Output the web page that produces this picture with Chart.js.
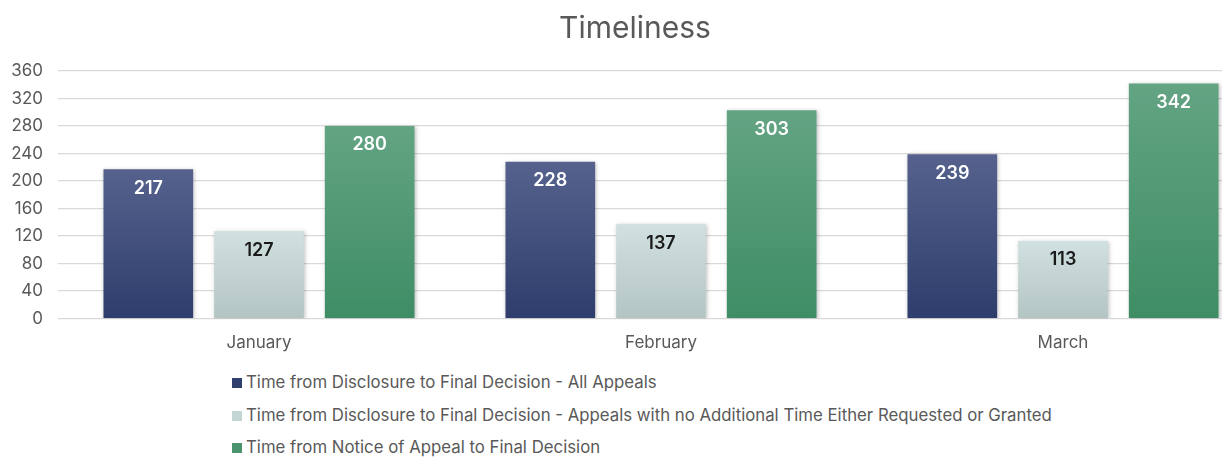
<!DOCTYPE html>
<html lang="en">
  <head>
    <meta charset="UTF-8" />
    <title>Timeliness</title>
    <script src="https://cdn.jsdelivr.net/npm/chart.js@4.4.1/dist/chart.umd.min.js"></script>
    <style>
      html, body { margin: 0; padding: 0; background: #fff; overflow: hidden; }
      #wrap { width: 1266px; height: 371px; position: relative; }
      #legend { margin: -5px 0 0 0; padding: 0 0 0 232px; list-style: none; font-family: Inter, sans-serif; font-size: 16.8px; color: #595959; }
      #legend li { height: 32.5px; line-height: 32.5px; white-space: nowrap; }
      #legend span.box { display: inline-block; width: 10px; height: 10px; margin-right: 4px; vertical-align: 0px; }
    </style>
  </head>
  <body>
    <div id="wrap"><canvas id="myChart"></canvas></div>
    <ul id="legend"></ul>
    <script>
      const months = ["January", "February", "March"];
      const allAppeals = [217, 228, 239];
      const noExtraTime = [127, 137, 113];
      const noticeToDecision = [280, 303, 342];
      const seriesNames = [
        "Time from Disclosure to Final Decision - All Appeals",
        "Time from Disclosure to Final Decision - Appeals with no Additional Time Either Requested or Granted",
        "Time from Notice of Appeal to Final Decision",
      ];
      // top colour, bottom colour, solid legend colour, label colour
      const palette = [
        ["#56628d", "#2e3d6c", "#2f3f6e", "#ffffff"],
        ["#d1e0e0", "#b3c5c3", "#c3d6d4", "#1a1a1a"],
        ["#63a483", "#3e8d65", "#4a9470", "#ffffff"],
      ];

      function barGradient(idx) {
        return function (context) {
          const chart = context.chart;
          if (!chart.chartArea || !chart.scales.y) return palette[idx][2];
          const v = context.raw;
          const yTop = chart.scales.y.getPixelForValue(v);
          const yBot = chart.scales.y.getPixelForValue(0);
          const g = chart.ctx.createLinearGradient(0, yTop, 0, yBot);
          g.addColorStop(0, palette[idx][0]);
          g.addColorStop(1, palette[idx][1]);
          return g;
        };
      }

      const valueLabels = {
        id: "valueLabels",
        beforeDatasetsDraw(chart) {
          chart.ctx.save();
          chart.ctx.shadowColor = "rgba(0,0,0,0.25)";
          chart.ctx.shadowBlur = 4;
          chart.ctx.shadowOffsetX = 1;
          chart.ctx.shadowOffsetY = 1;
        },
        afterDatasetsDraw(chart) {
          const ctx = chart.ctx;
          ctx.restore();
          ctx.save();
          ctx.font = "600 18px Inter, sans-serif";
          ctx.textAlign = "center";
          ctx.textBaseline = "middle";
          chart.data.datasets.forEach((ds, i) => {
            const meta = chart.getDatasetMeta(i);
            ctx.fillStyle = palette[i][3];
            meta.data.forEach((bar, j) => {
              ctx.fillText(ds.data[j], bar.x, bar.y + 19);
            });
          });
          ctx.restore();
        },
      };

      const ctx = document.getElementById("myChart").getContext("2d");
      const datasets = [allAppeals, noExtraTime, noticeToDecision].map((d, i) => ({
        label: seriesNames[i],
        data: d,
        backgroundColor: barGradient(i),
        borderWidth: 0,
        categoryPercentage: 0.826,
        barPercentage: 0.81,
      }));

      const chart = new Chart(ctx, {
        type: "bar",
        data: { labels: months, datasets: datasets },
        plugins: [valueLabels],
        options: {
          responsive: true,
          maintainAspectRatio: false,
          animation: false,
          layout: { padding: { left: 6, right: 2, top: 0, bottom: 4 } },
          plugins: {
            legend: { display: false },
            tooltip: { enabled: false },
            title: {
              display: true,
              text: "Timeliness",
              color: "#595959",
              font: { family: "Inter, sans-serif", size: 30, weight: "normal" },
              padding: { top: 11, bottom: 24 },
            },
          },
          scales: {
            x: {
              grid: { display: false, drawTicks: false },
              border: { display: false },
              ticks: {
                color: "#595959",
                font: { family: "Inter, sans-serif", size: 17 },
                padding: 14,
              },
            },
            y: {
              min: 0,
              max: 360,
              border: { display: false },
              grid: { color: "#d9d9d9", lineWidth: 1.3, drawTicks: false },
              afterFit: (scale) => { scale.width = 52; },
              ticks: {
                stepSize: 40,
                color: "#595959",
                font: { family: "Inter, sans-serif", size: 17 },
                padding: 15,
              },
            },
          },
        },
      });

      const legend = document.getElementById("legend");
      chart.data.datasets.forEach((ds, i) => {
        const li = document.createElement("li");
        const box = document.createElement("span");
        box.className = "box";
        box.style.background = palette[i][2];
        li.appendChild(box);
        li.appendChild(document.createTextNode(ds.label));
        legend.appendChild(li);
      });
    </script>
  </body>
</html>
